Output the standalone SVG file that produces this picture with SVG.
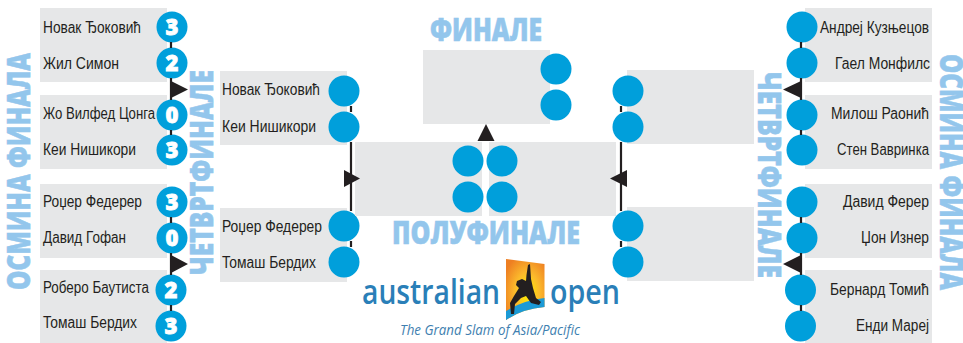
<svg xmlns="http://www.w3.org/2000/svg" width="963" height="343" viewBox="0 0 963 343">
<style>
.box{fill:#e6e7e8}
.c{fill:#009fdb}
.line{stroke:#231f20;stroke-width:2.2;fill:none}
.arr{fill:#231f20}
.n{font-family:"Liberation Sans",Arial,sans-serif;font-size:16px;fill:#231f20}
.r{text-anchor:end}
.s{font-family:"Open Sans","Liberation Sans",sans-serif;font-weight:800;font-size:22px;fill:#fff;stroke:#fff;stroke-width:.8;text-anchor:middle}
.h{font-family:"Open Sans","Liberation Sans",sans-serif;font-weight:800;font-size:31px;fill:#93c6ec;stroke:#93c6ec;stroke-width:.6}
.l{font-family:"Open Sans","Liberation Sans",sans-serif;font-weight:600;font-size:34px;fill:#2a7fb8}
</style>
<defs>
<radialGradient id="sun" cx="0.55" cy="0.55" r="0.65"><stop offset="0" stop-color="#fff200"/><stop offset="0.5" stop-color="#fbb92c"/><stop offset="1" stop-color="#ee7f22"/></radialGradient>
</defs>
<g id="r16-1"><rect class="box" x="40" y="8" width="127" height="74"/><text class="n" x="43" y="33" textLength="98" lengthAdjust="spacingAndGlyphs">Новак Ђоковић</text><text class="n" x="43" y="69" textLength="76" lengthAdjust="spacingAndGlyphs">Жил Симон</text><circle class="c" cx="172" cy="27" r="15.500"/><circle class="c" cx="172" cy="63" r="15.500"/><text class="s" x="172" y="35">3</text><text class="s" x="172" y="71">2</text></g>
<g id="r16-2"><rect class="box" x="40" y="95" width="127" height="74"/><text class="n" x="43" y="119" textLength="112" lengthAdjust="spacingAndGlyphs">Жо Вилфед Цонга</text><text class="n" x="43" y="155" textLength="93" lengthAdjust="spacingAndGlyphs">Кеи Нишикори</text><circle class="c" cx="172" cy="115" r="15.500"/><circle class="c" cx="172" cy="150" r="15.500"/><text class="s" x="172" y="123">0</text><text class="s" x="172" y="158">3</text></g>
<g id="r16-3"><rect class="box" x="40" y="184" width="127" height="74"/><text class="n" x="43" y="207" textLength="99" lengthAdjust="spacingAndGlyphs">Роџер Федерер</text><text class="n" x="43" y="243" textLength="83" lengthAdjust="spacingAndGlyphs">Давид Гофан</text><circle class="c" cx="172" cy="202" r="15.500"/><circle class="c" cx="172" cy="238" r="15.500"/><text class="s" x="172" y="210">3</text><text class="s" x="172" y="246">0</text></g>
<g id="r16-4"><rect class="box" x="40" y="270" width="127" height="73"/><text class="n" x="43" y="293" textLength="106" lengthAdjust="spacingAndGlyphs">Роберо Баутиста</text><text class="n" x="43" y="328" textLength="94" lengthAdjust="spacingAndGlyphs">Томаш Бердих</text><circle class="c" cx="171" cy="290" r="15.500"/><circle class="c" cx="171" cy="326" r="15.500"/><text class="s" x="171" y="298">2</text><text class="s" x="171" y="334">3</text></g>
<g id="qf-1"><rect class="box" x="220" y="71" width="127" height="74"/><text class="n" x="222" y="95" textLength="98" lengthAdjust="spacingAndGlyphs">Новак Ђоковић</text><text class="n" x="222" y="132" textLength="94" lengthAdjust="spacingAndGlyphs">Кеи Нишикори</text><circle class="c" cx="344" cy="91" r="15.500"/><circle class="c" cx="344" cy="127" r="15.500"/></g>
<g id="qf-2"><rect class="box" x="220" y="208" width="127" height="74"/><text class="n" x="222" y="232" textLength="100" lengthAdjust="spacingAndGlyphs">Роџер Федерер</text><text class="n" x="222" y="268" textLength="94" lengthAdjust="spacingAndGlyphs">Томаш Бердих</text><circle class="c" cx="344" cy="226" r="15.500"/><circle class="c" cx="344" cy="262" r="15.500"/></g>
<g id="sf-1"><rect class="box" x="355" y="142" width="127" height="74"/><circle class="c" cx="468" cy="161" r="15.500"/><circle class="c" cx="468" cy="197" r="15.500"/></g>
<g id="sf-2"><rect class="box" x="489" y="142" width="127" height="74"/><circle class="c" cx="502" cy="161" r="15.500"/><circle class="c" cx="502" cy="197" r="15.500"/></g>
<g id="final"><rect class="box" x="423" y="50" width="127" height="74"/><circle class="c" cx="556" cy="69" r="15.500"/><circle class="c" cx="556" cy="105" r="15.500"/></g>
<g id="qf-3"><rect class="box" x="627" y="70" width="127" height="74"/><circle class="c" cx="628" cy="91" r="15.500"/><circle class="c" cx="628" cy="127" r="15.500"/></g>
<g id="qf-4"><rect class="box" x="627" y="207" width="127" height="74"/><circle class="c" cx="628" cy="226" r="15.500"/><circle class="c" cx="628" cy="262" r="15.500"/></g>
<g id="r16-5"><rect class="box" x="805" y="8" width="127" height="74"/><text class="n r" x="929" y="33" textLength="109" lengthAdjust="spacingAndGlyphs">Андреј Кузњецов</text><text class="n r" x="930" y="69" textLength="95" lengthAdjust="spacingAndGlyphs">Гаел Монфилс</text><circle class="c" cx="802" cy="27" r="15.500"/><circle class="c" cx="802" cy="63" r="15.500"/></g>
<g id="r16-6"><rect class="box" x="805" y="95" width="127" height="74"/><text class="n r" x="929" y="119" textLength="98" lengthAdjust="spacingAndGlyphs">Милош Раонић</text><text class="n r" x="929" y="155" textLength="92" lengthAdjust="spacingAndGlyphs">Стен Вавринка</text><circle class="c" cx="802" cy="115" r="15.500"/><circle class="c" cx="802" cy="150" r="15.500"/></g>
<g id="r16-7"><rect class="box" x="805" y="184" width="127" height="74"/><text class="n r" x="929" y="207" textLength="86" lengthAdjust="spacingAndGlyphs">Давид Ферер</text><text class="n r" x="929" y="243" textLength="68" lengthAdjust="spacingAndGlyphs">Џон Изнер</text><circle class="c" cx="802" cy="202" r="15.500"/><circle class="c" cx="802" cy="238" r="15.500"/></g>
<g id="r16-8"><rect class="box" x="805" y="270" width="127" height="73"/><text class="n r" x="929" y="295" textLength="99" lengthAdjust="spacingAndGlyphs">Бернард Томић</text><text class="n r" x="929" y="331" textLength="73" lengthAdjust="spacingAndGlyphs">Енди Мареј</text><circle class="c" cx="800.500" cy="290" r="15.500"/><circle class="c" cx="800.500" cy="326" r="15.500"/></g>
<g id="connectors">
<path class="line" d="M171 42V48M171 78V100M171 130V135M171 217V223M171 253V275M171 305V311M351 106V112M351 142V211M351 241V247M621 106V112M621 142V211M621 241V247M801 42V48M801 78V100M801 130V135M801 217V223M801 253V275M801 305V311"/>
<path class="arr" d="M171 81L188 89.500L171 98ZM171 255L188 264L171 273ZM344 170L360 178.500L344 187ZM627 170L610 178.500L627 187ZM801 81L783 89.500L801 98ZM801 255L783 264L801 273ZM486 124L494.500 141H477.500Z"/>
</g>
<g id="round-labels">
<text class="h" transform="translate(30 290) rotate(-90)" textLength="237" lengthAdjust="spacingAndGlyphs">ОСМИНА ФИНАЛА</text>
<text class="h" transform="translate(213 275) rotate(-90)" textLength="205" lengthAdjust="spacingAndGlyphs">ЧЕТВРТФИНАЛЕ</text>
<text class="h" transform="translate(758 72) rotate(90)" textLength="206" lengthAdjust="spacingAndGlyphs">ЧЕТВРТФИНАЛЕ</text>
<text class="h" transform="translate(940 54) rotate(90)" textLength="236" lengthAdjust="spacingAndGlyphs">ОСМИНА ФИНАЛА</text>
<text class="h" x="430" y="41" textLength="112" lengthAdjust="spacingAndGlyphs">ФИНАЛЕ</text>
<text class="h" x="392" y="244" textLength="188" lengthAdjust="spacingAndGlyphs">ПОЛУФИНАЛЕ</text>
</g>
<g id="logo">
<path d="M506 259L544.500 264V307Q522 309 506 320Z" fill="url(#sun)"/>
<path d="M506 320V311Q524 300 544.500 298V307Q522 309 506 320Z" fill="#1b9ad6"/>
<path d="M528 265L530 264L531 279L533 288L536 298L541 302L539 305L531 303L526 296L521 298L515 304L514 314L511 314L510 303L514 296L519 288L516 285L517 281L522 279L526 281L526.500 275Z" fill="#231f20"/>
<text class="l" x="362" y="304" textLength="138" lengthAdjust="spacingAndGlyphs">australian</text>
<text class="l" x="550" y="304" textLength="70" lengthAdjust="spacingAndGlyphs">open</text>
<text x="400" y="335" textLength="180" lengthAdjust="spacingAndGlyphs" font-family="'Open Sans','Liberation Sans',sans-serif" font-style="italic" font-size="14" fill="#3f7fb0">The Grand Slam of Asia/Pacific</text>
</g>
</svg>
